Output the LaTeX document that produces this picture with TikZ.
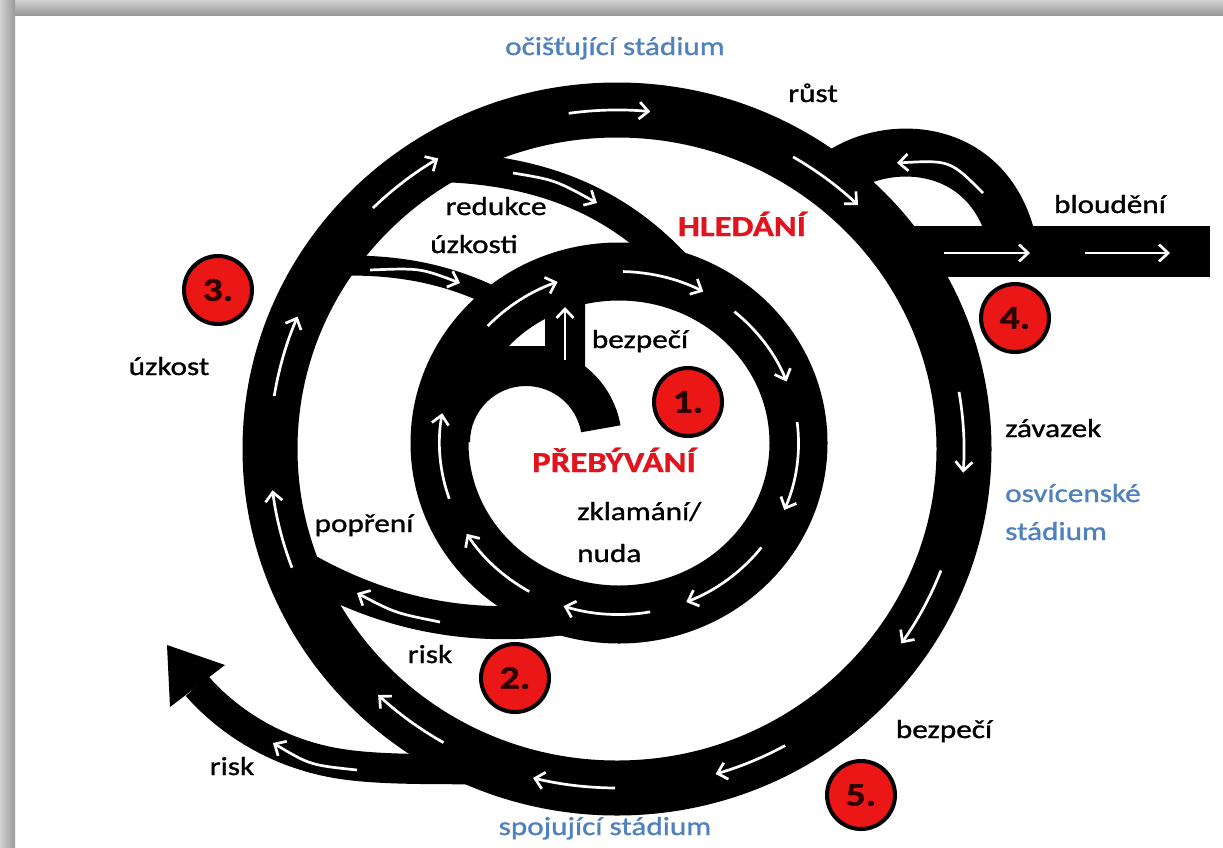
\documentclass[tikz,border=0pt]{standalone}
\usepackage{fontspec}
\setmainfont{Carlito}[FakeStretch=1.2,FakeBold=1.1]
\usetikzlibrary{arrows.meta}
\definecolor{cred}{RGB}{225,20,30}
\definecolor{cblue}{RGB}{79,129,189}
\definecolor{cfill}{RGB}{235,22,22}
\definecolor{cnum}{RGB}{45,0,0}
\begin{document}
\begin{tikzpicture}[x=1pt,y=-1pt,line join=round,
  wa/.style={draw=white,line width=2.7pt,-{Straight Barb[length=9pt,width=17pt]}},
  lbl/.style={font=\fontsize{26}{30}\selectfont,anchor=base,inner sep=0pt,text=black},
  blbl/.style={lbl,text=cblue},
  rlbl/.style={lbl,font=\bfseries\fontsize{29}{33}\selectfont,text=cred},
  numc/.style={circle,draw=black,line width=4pt,fill=cfill,minimum size=68pt,inner sep=0pt,
    font=\bfseries\fontsize{33}{36}\selectfont,text=cnum}]
\useasboundingbox (0,0) rectangle (1223,847);
% frame
\fill[white] (0,0) rectangle (1223,847);
\shade[top color=gray!35,bottom color=gray!80] (0,0) rectangle (1223,15);
\shade[left color=gray!35,right color=gray!80] (0,0) rectangle (15,847);
% centres
\coordinate (oc) at (617,449);
\coordinate (ic) at (619,443);
% rings
\draw[line width=55pt] (oc) ellipse[x radius=347,y radius=339];
\draw[line width=58pt] (ic) ellipse[x radius=179.5,y radius=171.5];
% branches
\coordinate (rA) at (440,167); \coordinate (rB) at (685,275);
\draw[line width=30pt] (rA) .. controls (540,170) and (620,200) .. (rB);
\coordinate (uA) at (330,266); \coordinate (uB) at (510,305);
\draw[line width=20pt] (uA) .. controls (400,263) and (455,275) .. (uB);
\coordinate (pA) at (290,560); \coordinate (pB) at (600,612);
\draw[line width=33pt] (pA) .. controls (380,615) and (480,638) .. (pB);
\coordinate (kA) at (550,770); \coordinate (kM) at (330,762); \coordinate (kB) at (197,686);
\draw[line width=30pt] (kA) .. controls (450,768) and (380,772) .. (kM) .. controls (270,750) and (225,718) .. (kB);
\fill (167,645) -- (170,707) -- (225,665) -- cycle;
\coordinate (lA) at (820,190); \coordinate (lB) at (1012,240);
\draw[line width=48pt] (lA) .. controls (860,138) and (985,128) .. (lB);
\fill (895,226) rectangle (1210,277);
% centre stub
\fill (466,346) -- (466,442) -- (470,442) arc[start angle=180,end angle=350,radius=56]
  -- (620.5,425.3) arc[start angle=350,end angle=308,radius=96]
  -- (585,300) -- (545,300) -- (545,346) -- cycle;
% white arrows on outer ring
\foreach \a/\b in {-98/-84.5,-134.7/-121,-171/-157,159.5/173,120/133.5,90.3/104,61/73.5,21/35,-9.7/4,-59.5/-46}
  \draw[wa] ([shift={(\a:347 and 339)}]oc) arc[start angle=\a,end angle=\b,x radius=347,y radius=339];
% white arrows on inner ring
\foreach \a/\b in {-137/-110,-88.7/-62,-50/-21,-7/23,37.5/68,80/108,120/148,161/190}
  \draw[wa] ([shift={(\a:179.5 and 171.5)}]ic) arc[start angle=\a,end angle=\b,x radius=179.5,y radius=171.5];
% white arrows on branches
\draw[wa] (513,173) .. controls (555,180) .. (597,203);
\draw[wa] (370,270) .. controls (420,268) .. (460,283);
\draw[wa] (440,622) .. controls (395,613) .. (357,593);
\draw[wa] (357,770) .. controls (310,765) .. (273,743);
\draw[wa] (983,193) .. controls (950,160) .. (897,163);
\draw[wa] (944,253) -- (1030,253);
\draw[wa] (1085,253) -- (1170,253);
\draw[wa] (565,360) -- (565,307);
% labels
\node[blbl] (t1) at (615,55) {očišťující stádium};
\node[lbl] (t2) at (813,102) {růst};
\node[lbl] (t3) at (1110,213) {bloudění};
\node[rlbl] (t4) at (742,236) {HLEDÁNÍ};
\node[lbl] (t5) at (496,215) {redukce};
\node[lbl] (t6) at (474,253) {úzkosti};
\node[lbl] (t7) at (169,375) {úzkost};
\node[lbl] (t8) at (640,348) {bezpečí};
\node[rlbl] (t9) at (614,472) {PŘEBÝVÁNÍ};
\node[lbl,anchor=base west] (t10) at (577,520) {zklamání/};
\node[lbl,anchor=base west] (t11) at (577,562) {nuda};
\node[lbl] (t12) at (364,532) {popření};
\node[lbl] (t13) at (430,663) {risk};
\node[lbl] (t14) at (232,775) {risk};
\node[blbl] (t15) at (605,835) {spojující stádium};
\node[lbl] (t16) at (944,738) {bezpečí};
\node[lbl,anchor=base west] (t17) at (1005,437) {závazek};
\node[blbl,anchor=base west] (t18) at (1005,502) {osvícenské};
\node[blbl,anchor=base west] (t19) at (1005,540) {stádium};
% numbered circles
\node[numc] (n1) at (688,402) {\raisebox{-3pt}{1.}};
\node[numc] (n2) at (515,678) {\raisebox{-3pt}{2.}};
\node[numc] (n3) at (218,290) {\raisebox{-3pt}{3.}};
\node[numc] (n4) at (1015,318) {\raisebox{-3pt}{4.}};
\node[numc] (n5) at (861,795) {\raisebox{-3pt}{5.}};
\end{tikzpicture}
\end{document}
